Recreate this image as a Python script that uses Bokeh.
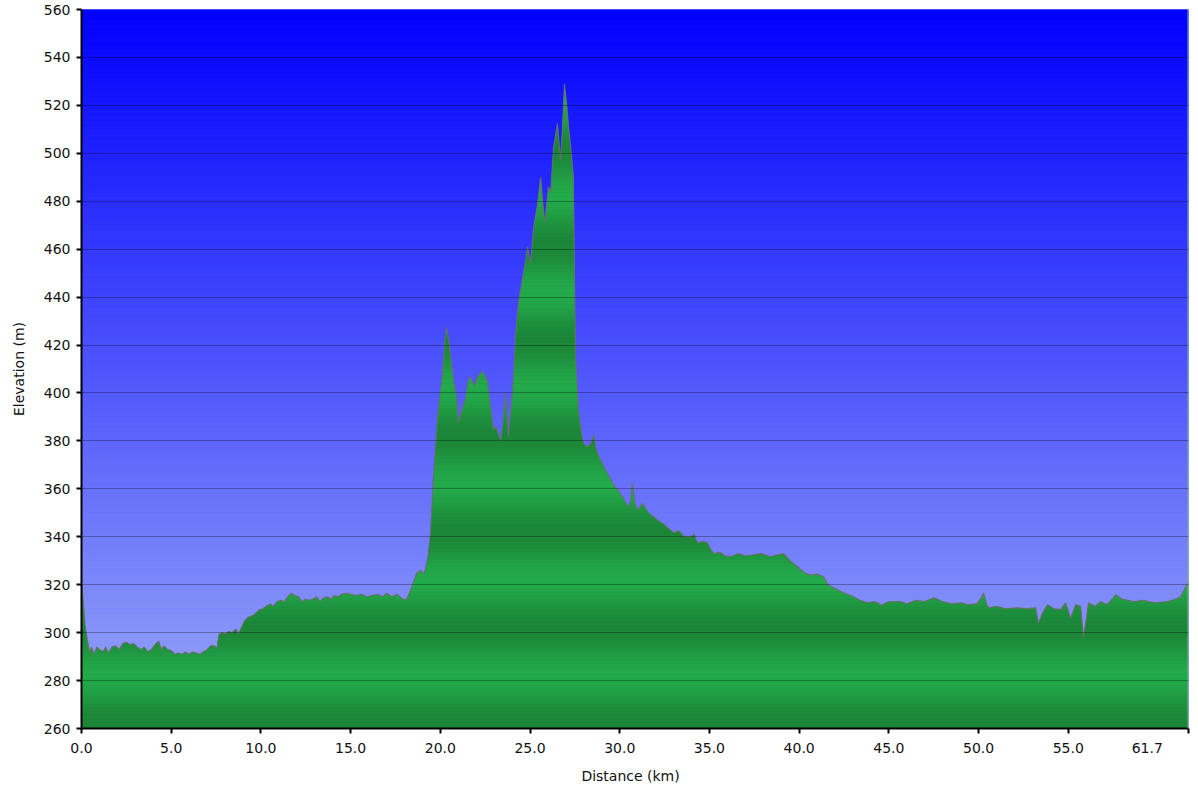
import numpy as np
from bokeh.plotting import figure
from bokeh.models import Range1d, FixedTicker, Span
from bokeh.embed import file_html
from bokeh.resources import INLINE

# ---------------- data ----------------
distance_km = [
    0.0, 0.1, 0.2, 0.35, 0.45, 0.55, 0.7, 0.85, 1.0, 1.2,
    1.35, 1.5, 1.7, 1.9, 2.1, 2.3, 2.5, 2.7, 2.9, 3.1,
    3.3, 3.5, 3.7, 3.9, 4.1, 4.3, 4.45, 4.6, 4.8, 5.0,
    5.2, 5.4, 5.6, 5.8, 6.0, 6.2, 6.4, 6.6, 6.8, 7.0,
    7.2, 7.4, 7.55, 7.65, 7.8, 8.0, 8.2, 8.4, 8.6, 8.75,
    8.9, 9.1, 9.3, 9.5, 9.7, 9.9, 10.1, 10.3, 10.5, 10.7,
    10.9, 11.1, 11.3, 11.5, 11.7, 11.9, 12.1, 12.3, 12.5, 12.7,
    12.9, 13.1, 13.3, 13.5, 13.7, 13.9, 14.1, 14.3, 14.5, 14.8,
    15.0, 15.3, 15.6, 15.9, 16.2, 16.5, 16.8, 17.0, 17.3, 17.6,
    17.9, 18.1, 18.3, 18.5, 18.7, 18.9, 19.1, 19.3, 19.45, 19.62,
    19.84, 20.12, 20.25, 20.35, 20.5, 20.74, 20.9, 21.01, 21.2, 21.4,
    21.55, 21.68, 21.9, 22.1, 22.35, 22.63, 22.8, 22.97, 23.1, 23.36,
    23.5, 23.63, 23.8, 24.08, 24.2, 24.36, 24.58, 24.75, 24.86, 25.03,
    25.2, 25.4, 25.59, 25.81, 26.03, 26.15, 26.31, 26.53, 26.7, 26.8,
    26.92, 27.05, 27.15, 27.3, 27.42, 27.48, 27.54, 27.7, 27.85, 27.98,
    28.2, 28.4, 28.54, 28.7, 28.93, 29.2, 29.49, 29.7, 29.88, 30.2,
    30.49, 30.6, 30.71, 30.85, 30.99, 31.27, 31.6, 32.1, 32.5, 32.8,
    33.0, 33.3, 33.6, 33.95, 34.15, 34.34, 34.6, 34.89, 35.05, 35.23,
    35.6, 35.9, 36.18, 36.6, 37.0, 37.46, 37.9, 38.41, 38.8, 39.13,
    39.5, 39.91, 40.3, 40.64, 41.0, 41.36, 41.6, 41.92, 42.5, 43.03,
    43.4, 43.81, 44.2, 44.6, 45.0, 45.65, 46.0, 46.5, 47.0, 47.49,
    48.0, 48.5, 49.0, 49.39, 49.9, 50.1, 50.28, 50.45, 50.56, 51.0,
    51.5, 52.17, 52.7, 53.18, 53.34, 53.55, 53.85, 54.2, 54.57, 54.85,
    55.13, 55.41, 55.69, 55.85, 56.13, 56.5, 56.8, 57.13, 57.4, 57.64,
    58.0, 58.64, 59.2, 59.8, 60.53, 61.0, 61.26, 61.54, 61.7,
]
elevation_m = [
    322, 313, 303, 296, 292, 294, 291, 294, 293, 292,
    294, 291.5, 294, 294.5, 293, 295.5, 296, 295, 295.5, 294,
    293, 294, 292, 293, 295, 296.5, 293, 294.5, 293, 292.5,
    291, 291.5, 291, 292, 291, 292, 291.5, 291, 292, 293,
    294.5, 294.5, 293.5, 299, 300, 299.5, 300.5, 300, 301.5, 299.5,
    302, 305, 306.5, 307, 308, 309.5, 310, 311, 312, 311,
    313, 313.5, 313, 315, 316.5, 315.5, 315, 313, 314, 313.5,
    314, 315, 313, 314.5, 315, 314, 315.5, 315, 316, 316.5,
    316, 315.5, 316, 315, 315.5, 316, 315, 316.5, 315, 316,
    314, 313.7, 317, 321, 325, 326, 324.5, 331, 341.7, 365,
    390, 408, 422, 427.5, 420, 405, 399, 387.5, 393, 398,
    405, 406.7, 403, 407, 409, 405, 394, 384.6, 386, 380,
    388, 400, 381.7, 406.7, 425, 438, 448, 455, 461, 454,
    469, 478, 490, 471, 486, 484, 502.5, 512.5, 497, 510,
    529, 520, 511, 500, 490, 448, 414, 393, 384, 379,
    377.5, 379, 382.5, 376, 372, 368, 364, 361, 359.6, 356,
    352.5, 355, 362.5, 354, 351, 354, 350, 347, 345, 343,
    341.7, 342.5, 340, 340, 341, 337.5, 338, 337.5, 335, 333,
    333.5, 332, 331.7, 333, 332, 332.5, 333, 331.7, 332.5, 333,
    330, 327.5, 325, 324, 324.5, 323.3, 320, 318.7, 316.5, 315,
    313.5, 312.5, 313, 311.5, 313, 313, 312, 313.5, 313, 314.6,
    313, 312, 312.5, 311.7, 312, 314, 316.5, 312, 310.4, 311,
    310, 310.4, 310, 310.4, 304, 308, 311.7, 310, 309.6, 312.5,
    306, 311.7, 311, 298, 312.5, 311, 313, 311.7, 313.5, 315.8,
    314, 313, 313.5, 312.5, 313, 314, 315, 319, 321,
]

x_tick_values = [0.0, 5.0, 10.0, 15.0, 20.0, 25.0, 30.0, 35.0, 40.0, 45.0, 50.0, 55.0, 61.7]
x_tick_labels = ["0.0", "5.0", "10.0", "15.0", "20.0", "25.0", "30.0", "35.0",
                 "40.0", "45.0", "50.0", "55.0", "61.7"]
y_tick_values = [260, 280, 300, 320, 340, 360, 380, 400, 420, 440, 460, 480, 500, 520, 540, 560]
y_tick_labels = ["260", "280", "300", "320", "340", "360", "380", "400",
                 "420", "440", "460", "480", "500", "520", "540", "560"]
x_axis_title = "Distance   (km)"
y_axis_title = "Elevation (m)"

# ---------------- figure ----------------
X0, X1 = x_tick_values[0], x_tick_values[-1]
Y0, Y1 = y_tick_values[0], y_tick_values[-1]
FONT = "DejaVu Sans"

p = figure(width=1198, height=786, output_backend="svg", toolbar_location=None,
           x_range=Range1d(X0, X1), y_range=Range1d(Y0, Y1),
           min_border_left=81, min_border_right=10, min_border_top=9, min_border_bottom=57)
p.outline_line_color = None
p.border_fill_color = "white"
p.background_fill_color = "#8c9bf8"


def mix(c0, c1, t):
    r = int(round(c0[0] + (c1[0] - c0[0]) * t))
    g = int(round(c0[1] + (c1[1] - c0[1]) * t))
    b = int(round(c0[2] + (c1[2] - c0[2]) * t))
    return "#%02x%02x%02x" % (r, g, b)


# blue background gradient
top_blue = (0, 0, 255)
bottom_blue = (155, 170, 248)
bstep = 2.0
levels = np.arange(Y0, Y1, bstep)
bg_cols = [mix(top_blue, bottom_blue, (Y1 - (lv + bstep / 2)) / (Y1 - Y0)) for lv in levels]
p.quad(left=X0, right=X1, bottom=levels, top=levels + bstep, fill_color=bg_cols,
       line_color=bg_cols, line_width=1)

# green area with banded vertical gradient
d = np.array(distance_km, dtype=float)
e = np.array(elevation_m, dtype=float)
gstep = 1.5
band_edges = np.arange(Y0, e.max() + gstep, gstep)


def with_crossings(x, y, lv):
    """Same polyline, with its exact crossing points of the band edges added."""
    xs, ys = [x[0]], [y[0]]
    for i in range(len(x) - 1):
        xa, xb, ya, yb = x[i], x[i + 1], y[i], y[i + 1]
        if yb != ya:
            lo, hi = min(ya, yb), max(ya, yb)
            cs = lv[(lv > lo) & (lv < hi)]
            ts = np.sort((cs - ya) / (yb - ya))
            for t in ts:
                xs.append(xa + t * (xb - xa))
                ys.append(ya + t * (yb - ya))
        xs.append(xb)
        ys.append(yb)
    return np.array(xs), np.array(ys)


dx, ex = with_crossings(d, e, band_edges)

light_green = (35, 170, 75)
dark_green = (27, 133, 55)
p.varea(x=d, y1=Y0, y2=e, fill_color=mix(dark_green, light_green, 0.5))
for b0 in band_edges[:-1]:
    if b0 >= e.max():
        break
    mid = b0 + gstep / 2
    w = 0.5 - 0.5 * np.cos(2 * np.pi * (mid - 262) / 40.0)
    col = mix(dark_green, light_green, w)
    y2 = np.clip(ex, b0, b0 + gstep)
    p.varea(x=dx, y1=b0, y2=y2, fill_color=col)

# profile outline
p.line(d, e, line_color="#6e6e6e", line_width=1.1, line_alpha=0.9)

# right edge line
p.add_layout(Span(location=X1, dimension="height", line_color="#7fb0a8", line_width=2))

# grid
p.xgrid.visible = False
p.ygrid.ticker = FixedTicker(ticks=y_tick_values)
p.ygrid.grid_line_color = "black"
p.ygrid.grid_line_alpha = 0.3
p.ygrid.grid_line_width = 1
p.ygrid.level = "overlay"

# axes
p.xaxis.ticker = FixedTicker(ticks=x_tick_values)
p.yaxis.ticker = FixedTicker(ticks=y_tick_values)
xo = {v: lab for v, lab in zip(x_tick_values, x_tick_labels)}
# last label sits right-aligned to its tick in the reference: pad with figure spaces
xo[x_tick_values[-1]] = x_tick_labels[-1] + "\u2007" * 4
p.xaxis.major_label_overrides = xo
p.yaxis.major_label_overrides = {v: lab for v, lab in zip(y_tick_values, y_tick_labels)}

for ax in (p.xaxis[0], p.yaxis[0]):
    ax.axis_line_color = "black"
    ax.axis_line_width = 2
    ax.major_tick_line_color = "black"
    ax.major_tick_line_width = 2
    ax.major_tick_out = 5
    ax.major_tick_in = 0
    ax.minor_tick_line_color = None
    ax.major_label_text_font = FONT
    ax.major_label_text_font_size = "14px"
    ax.major_label_text_color = "#111111"
    ax.axis_label_text_font = FONT
    ax.axis_label_text_font_size = "14px"
    ax.axis_label_text_font_style = "normal"
    ax.axis_label_text_color = "#111111"

p.xaxis.axis_label = x_axis_title
p.yaxis.axis_label = y_axis_title
p.xaxis.major_label_standoff = 6
p.yaxis.major_label_standoff = 6
p.xaxis.axis_label_standoff = 9
p.yaxis.axis_label_standoff = 14

open("out.html", "w").write(file_html(p, INLINE))
